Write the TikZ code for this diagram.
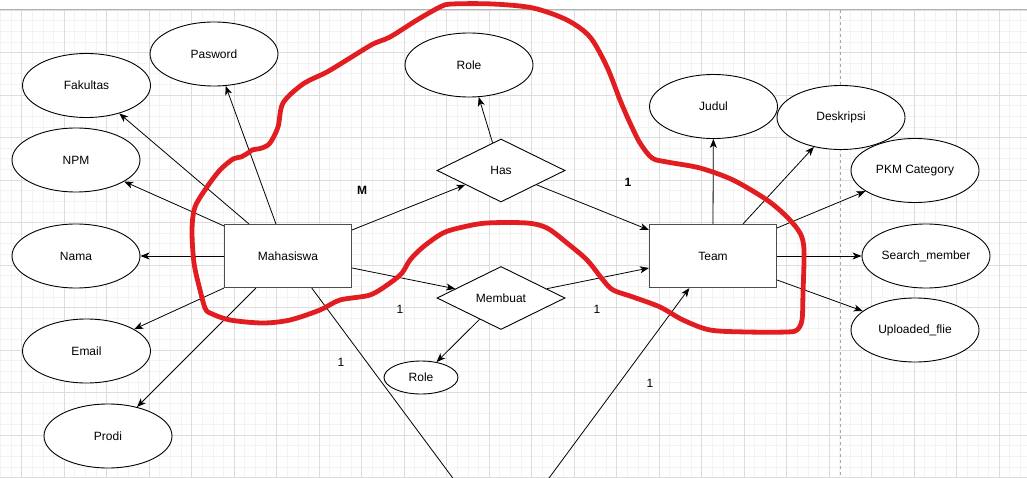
\documentclass[tikz,border=0pt]{standalone}
\usepackage{fontspec}
\setmainfont{Liberation Sans}
\usetikzlibrary{shapes.geometric,arrows.meta,calc}
\definecolor{redpen}{RGB}{226,29,33}
\definecolor{gridminor}{RGB}{243,243,243}
\definecolor{gridmajor}{RGB}{221,221,221}
\begin{document}
\begin{tikzpicture}[x=1pt,y=-1pt,
  txt/.style={font=\fontsize{12}{14}\selectfont},
  attr/.style={ellipse, draw=black, fill=white, line width=0.9pt, minimum width=128pt, minimum height=64pt, inner sep=0pt, txt},
  ent/.style={rectangle, draw=black!70, fill=white, line width=1.1pt, minimum width=127pt, minimum height=63pt, inner sep=0pt, txt},
  rel/.style={diamond, draw=black, fill=white, line width=0.9pt, minimum width=128pt, minimum height=63pt, inner sep=0pt, txt},
  conn/.style={line width=0.8pt, -{Stealth[length=9pt,width=7pt,inset=2.5pt]}},
  plainline/.style={line width=0.8pt},
  card/.style={txt},
  cardb/.style={font=\fontsize{12}{14}\selectfont\bfseries},
  redloop/.style={draw=redpen, line width=4.8pt, line cap=round, line join=round}
]
\useasboundingbox (0,0) rectangle (1027,478);
\fill[white] (0,0) rectangle (1027,478);
% grid
\foreach \k in {0,...,96} \draw[gridminor, line width=0.7pt] ({0.45+\k*10.625},10) -- ({0.45+\k*10.625},478);
\foreach \k in {0,...,44} \draw[gridminor, line width=0.7pt] (0,{10+\k*10.625}) -- (1027,{10+\k*10.625});
\foreach \k in {0,...,23} \draw[gridmajor, line width=0.9pt] ({21.7+\k*42.5},10) -- ({21.7+\k*42.5},478);
\foreach \k in {0,...,11} \draw[gridmajor, line width=0.9pt] (0,{10+\k*42.5}) -- (1027,{10+\k*42.5});
\draw[black!30, line width=1pt] (0,9.5) -- (1027,9.5);
\draw[black!35, line width=0.9pt, dash pattern=on 3pt off 3pt] (840.7,10) -- (840.7,478);

% nodes
\node[ent] (mah) at (288,256) {Mahasiswa};
\node[ent] (team) at (713,256) {Team};
\node[attr] (pw) at (214,54) {Pasword};
\node[attr] (fak) at (86.5,85.5) {Fakultas};
\node[attr] (npm) at (76,160) {NPM};
\node[attr] (nama) at (76,256) {Nama};
\node[attr] (email) at (86.5,351) {Email};
\node[attr] (prodi) at (108,436) {Prodi};
\node[attr] (role1) at (469,65) {Role};
\node[rel] (has) at (501,170.5) {Has};
\node[rel] (mem) at (501,298) {Membuat};
\node[attr, minimum width=74pt, minimum height=33pt] (role2) at (421,377.5) {Role};
\node[attr] (judul) at (713.5,106.5) {Judul};
\node[attr] (desk) at (841,117.5) {Deskripsi};
\node[attr] (pkm) at (915,170.5) {PKM Category};
\node[attr] (search) at (926,256) {Search\_member};
\node[attr] (upl) at (915,330) {Uploaded\_flie};
\coordinate (hid) at (501,543);

% connectors
\draw[conn] ($(mah.north west)+(52,0)$) -- (pw);
\draw[conn] ($(mah.north west)+(25,0)$) -- (fak);
\draw[conn] ($(mah.north west)+(0,2)$) -- (npm);
\draw[conn] (mah.west) -- (nama);
\draw[conn] (mah.south west) -- (email);
\draw[conn] ($(mah.south west)+(32,0)$) -- (prodi);
\draw[conn] ($(mah.north east)+(0,6)$) -- (has);
\draw[conn] (has) -- ($(team.north west)+(0,6)$);
\draw[conn] (has) -- (role1);
\draw[conn] ($(mah.east)+(0,12)$) -- (mem);
\draw[conn] (mem) -- ($(team.west)+(0,12)$);
\draw[conn] (mem) -- (role2);
\draw[conn] (team.north) -- (judul);
\draw[conn] ($(team.north)+(30,0)$) -- (desk);
\draw[conn] ($(team.north east)+(0,4)$) -- (pkm);
\draw[conn] (team.east) -- (search);
\draw[conn] ($(team.east)+(0,24)$) -- (upl);
\begin{scope}
  \clip (0,0) rectangle (1027,478);
  \draw[plainline] (mah) -- (hid);
  \draw[conn] (hid) -- (team);
\end{scope}

% cardinalities
\node[cardb] (lm) at (362,190) {M};
\node[cardb] (l1a) at (628,182) {1};
\node[card] (l1b) at (400,309) {1};
\node[card] (l1c) at (597,309) {1};
\node[card] (l1d) at (341,362) {1};
\node[card] (l1e) at (650,383) {1};

% red freehand loop
\draw[redloop] plot[smooth cycle, tension=0.5] coordinates {
(205,308) (200,290) (194,263) (192,230) (195,207) (207,187) (220,170) (233,159) (241,157) (248,153) (252,150) (262,148) (270,143) (278,127) (283,103) (303,84) (327,72) (350,58) (373,44) (390,37) (417,20) (440,7) (452,4) (493,4) (533,8) (567,20) (590,37) (607,67) (620,100) (630,123) (640,143) (652,158) (667,162) (700,168) (733,180) (767,200) (787,217) (800,233) (804,250) (803,293) (802,320) (797,330) (787,332) (747,332) (710,330) (683,320) (660,307) (633,297) (613,290) (603,280) (587,260) (567,243) (547,228) (527,223) (487,223) (463,227) (443,233) (423,247) (410,260) (402,273) (390,283) (370,295) (340,300) (320,310) (290,320) (263,323) (230,320) (210,313)};
\end{tikzpicture}
\end{document}
